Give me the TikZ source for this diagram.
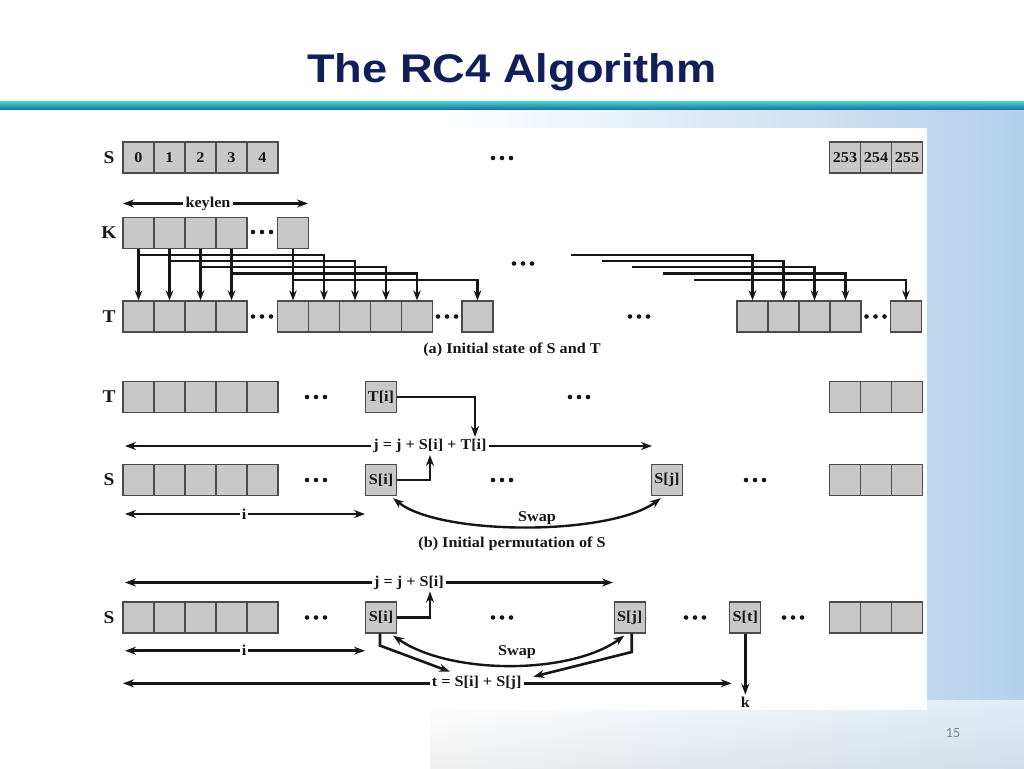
\documentclass[tikz,border=0pt]{standalone}
\usepackage{fontspec}
\setmainfont{Liberation Serif}
\newfontfamily\dfont[FakeStretch=1.08]{Liberation Serif}
\newfontfamily\titlefont[FakeStretch=1.13]{Liberation Sans}
\newfontfamily\pgfont{Carlito}
\usetikzlibrary{arrows.meta,calc}
\definecolor{navy}{RGB}{16,30,90}
\definecolor{cellgray}{RGB}{200,200,200}
\definecolor{cellline}{RGB}{75,75,75}
\definecolor{ink}{RGB}{22,22,22}
\definecolor{bgblue}{RGB}{180,208,234}
\definecolor{tealA}{RGB}{70,210,195}
\definecolor{tealB}{RGB}{28,112,170}
\begin{document}
\begin{tikzpicture}[x=1pt,y=-1pt,
  cell/.style={draw=cellline, fill=cellgray, line width=1.2pt, minimum width=31pt, minimum height=31pt, inner sep=0pt, text=ink, font=\dfont\bfseries\fontsize{15}{17}\selectfont},
  rowlbl/.style={text=ink, font=\dfont\bfseries\fontsize{18}{20}\selectfont},
  txt/.style={text=ink, inner sep=2pt, font=\dfont\bfseries\fontsize{15}{17}\selectfont},
  conn/.style={line width=2.6pt, draw=ink, -{Stealth[length=11pt,width=8pt]}},
  kline/.style={line width=2.3pt, draw=ink, -{Stealth[length=10pt,width=7.5pt]}},
  both/.style={line width=2.4pt, draw=ink, {Stealth[length=11pt,width=8pt]}-{Stealth[length=11pt,width=8pt]}},
  ell/.pic={\foreach \d in {-9,0,9} \fill[ink] (\d,0) circle (2.3);}
]
\useasboundingbox (0,0) rectangle (1024,768);
% background
\fill[white] (0,0) rectangle (1024,768);
\shade[left color=white, right color=bgblue] (440,110) rectangle (1024,768);
\shade[top color=white, bottom color=white!80!gray, opacity=0.6] (430,700) rectangle (1024,768);
\fill[white] (85,128) rectangle (927,710);
\shade[top color=tealA, bottom color=tealB] (0,101.5) rectangle (1024,109.5);
\node[text=navy, font=\titlefont\bfseries\fontsize{40}{46}\selectfont, anchor=base] (title) at (512,82) {The RC4 Algorithm};
\node[text=gray, font=\pgfont\fontsize{14}{16}\selectfont] (pg) at (953,733) {15};

% ---------- (a) ----------
\node[rowlbl] (Sa) at (109,157.5) {S};
\foreach \k [count=\n from 0] in {0,1,2,3,4}
  \node[cell] (sa\n) at (138.5+31*\n,157.5) {\k};
\foreach \k [count=\n from 0] in {253,254,255}
  \node[cell] (sb\n) at (845+31*\n,157.5) {\k};
\pic at (502,158) {ell};

\node[txt, fill=white] (keylen) at (208,203.5) {keylen};
\coordinate (klL) at (123,203.5);
\coordinate (klR) at (308,203.5);
\draw[conn] (keylen.west) -- (klL);
\draw[conn] (keylen.east) -- (klR);

\node[rowlbl] (Ka) at (109,233) {K};
\foreach \n in {0,1,2,3}
  \node[cell] (ka\n) at (138.5+31*\n,233) {};
\node[cell] (ka4) at (293,233) {};
\pic at (262,232) {ell};

\node[rowlbl] (Ta) at (109,316.5) {T};
\foreach \n in {0,1,2,3}
  \node[cell] (ta\n) at (138.5+31*\n,316.5) {};
\foreach \n in {4,5,6,7,8}
  \node[cell] (ta\n) at (293+31*\n-124,316.5) {};
\node[cell] (ta9) at (477.5,316.5) {};
\foreach \n in {0,1,2,3}
  \node[cell] (tr\n) at (752.5+31*\n,316.5) {};
\node[cell] (tr4) at (906,316.5) {};
\pic at (262,316.5) {ell};
\pic at (447,316.5) {ell};
\pic at (639,316.5) {ell};
\pic at (875.5,316.5) {ell};
\pic at (523,263.5) {ell};

\coordinate (y0) at (0,255);
\coordinate (y1) at (0,261);
\coordinate (y2) at (0,267);
\coordinate (y3) at (0,273.5);
\coordinate (y4) at (0,280);
\draw[kline] (ka0.south) -- (ta0.north);
\draw[kline] (ka1.south) -- (ta1.north);
\draw[kline] (ka2.south) -- (ta2.north);
\draw[kline] (ka3.south) -- (ta3.north);
\draw[kline] (ka4.south) -- (ta4.north);
\draw[kline] (ka0.south |- y0) -| (ta5.north);
\draw[kline] (ka1.south |- y1) -| (ta6.north);
\draw[kline] (ka2.south |- y2) -| (ta7.north);
\draw[kline] (ka3.south |- y3) -| (ta8.north);
\draw[kline] (ka4.south |- y4) -| (ta9.north);
\coordinate (r0) at (571,255);
\coordinate (r1) at (602,261);
\coordinate (r2) at (632,267);
\coordinate (r3) at (663,273.5);
\coordinate (r4) at (694,280);
\draw[kline] (r0) -| (tr0.north);
\draw[kline] (r1) -| (tr1.north);
\draw[kline] (r2) -| (tr2.north);
\draw[kline] (r3) -| (tr3.north);
\draw[kline] (r4) -| (tr4.north);

\node[txt] (capa) at (512,350) {(a) Initial state of S and T};

% ---------- (b) ----------
\node[rowlbl] (Tb) at (109,397) {T};
\foreach \n in {0,1,2,3,4}
  \node[cell] (tb\n) at (138.5+31*\n,397) {};
\pic at (316,397) {ell};
\node[cell] (ti) at (381,397) {T[i]};
\pic at (579,397) {ell};
\foreach \n in {0,1,2}
  \node[cell] (tbr\n) at (845+31*\n,397) {};

\node[txt] (eqb) at (430,446) {j = j + S[i] + T[i]};
\coordinate (eqbL) at (125,446);
\coordinate (eqbR) at (652,446);
\draw[conn] (eqb.west) -- (eqbL);
\draw[conn] (eqb.east) -- (eqbR);
\draw[conn] (ti.east) -| ($(eqb.north)+(45,0)$);

\node[rowlbl] (Sb) at (109,480) {S};
\foreach \n in {0,1,2,3,4}
  \node[cell] (sb\n x) at (138.5+31*\n,480) {};
\pic at (316,480) {ell};
\node[cell] (si) at (381,480) {S[i]};
\pic at (502,480) {ell};
\node[cell] (sj) at (667,480) {S[j]};
\pic at (755,480) {ell};
\foreach \n in {0,1,2}
  \node[cell] (sbr\n) at (845+31*\n,480) {};
\draw[conn] (si.east) -| (eqb.south);

\node[txt, fill=white] (ib) at (244,514) {i};
\coordinate (ibL) at (125,514);
\coordinate (ibR) at (365,514);
\draw[conn] (ib.west) -- (ibL);
\draw[conn] (ib.east) -- (ibR);

\draw[both] ([shift={(-4,2)}]si.south east) .. controls (440,536) and (610,536) .. ([shift={(10,2)}]sj.south west);
\node[txt] (swapb) at (537,518) {Swap};
\node[txt] (capb) at (512,544) {(b) Initial permutation of S};

% ---------- (c) ----------
\node[txt] (eqc) at (409,582.5) {j = j + S[i]};
\coordinate (eqcL) at (125,582.5);
\coordinate (eqcR) at (613,582.5);
\draw[conn] (eqc.west) -- (eqcL);
\draw[conn] (eqc.east) -- (eqcR);

\node[rowlbl] (Sc) at (109,617.5) {S};
\foreach \n in {0,1,2,3,4}
  \node[cell] (sc\n) at (138.5+31*\n,617.5) {};
\pic at (316,617.5) {ell};
\node[cell] (si2) at (381,617.5) {S[i]};
\pic at (502,617.5) {ell};
\node[cell] (sj2) at (629.7,617.5) {S[j]};
\pic at (695,617.5) {ell};
\node[cell] (st) at (745.3,617.5) {S[t]};
\pic at (793,617.5) {ell};
\foreach \n in {0,1,2}
  \node[cell] (scr\n) at (845+31*\n,617.5) {};
\draw[conn] (si2.east) -| ($(eqc.south)+(21,0)$);

\node[txt, fill=white] (ic) at (244,650.7) {i};
\coordinate (icL) at (125,650.7);
\coordinate (icR) at (365,650.7);
\draw[conn] (ic.west) -- (icL);
\draw[conn] (ic.east) -- (icR);

\draw[both] ([shift={(-4,2)}]si2.south east) .. controls (450,675) and (570,675) .. ([shift={(10.7,2)}]sj2.south west);
\node[txt] (swapc) at (517,651.7) {Swap};

\node[txt] (teq) at (476.7,683.3) {t = S[i] + S[j]};
\coordinate (teqL) at (123,683.3);
\coordinate (teqR) at (731.7,683.3);
\draw[conn] (teq.west) -- (teqL);
\draw[conn] (teq.east) -- (teqR);
\coordinate (tA) at (450,671.7);
\coordinate (tB) at (533.3,676.7);
\draw[conn] ([xshift=-1pt]si2.south) -- ++(0,12) -- (tA);
\draw[conn] ([xshift=2pt]sj2.south) -- ++(0,18.4) -- (tB);

\node[txt] (k) at (745.3,702) {k};
\draw[conn] (st.south) -- (k.north);
\end{tikzpicture}
\end{document}
